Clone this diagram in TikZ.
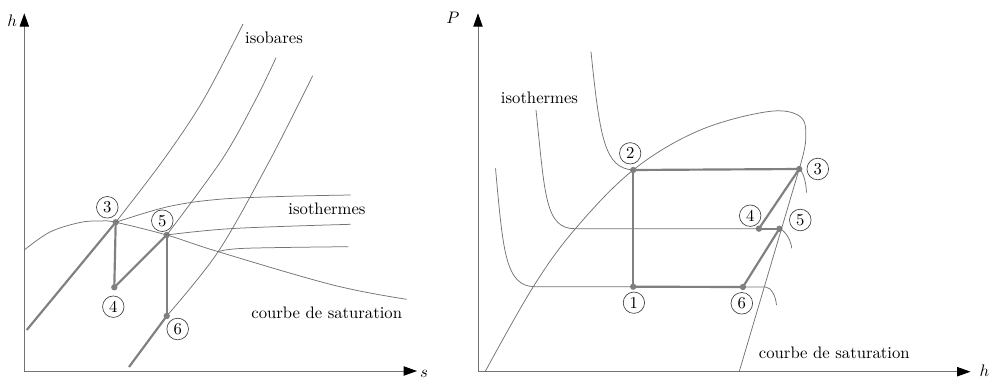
\documentclass[tikz,border=0pt]{standalone}
\usetikzlibrary{arrows.meta}
\begin{document}
\begin{tikzpicture}[x=0.6pt,y=-0.6pt,
  fine/.style={draw=black!55, line width=0.45pt},
  cyc/.style={draw=black!50, line width=1.3pt},
  axis/.style={draw=black!55, line width=0.5pt, -{Triangle[length=8pt,width=5.6pt,black]}},
  lbl/.style={circle, draw=black!75, line width=0.4pt, inner sep=1.6pt},
  dot/.style={circle, fill=black!50, inner sep=0pt, minimum size=3.8pt}]
\useasboundingbox (0,0) rectangle (990,381);

% ---------------- left panel (h-s) ----------------
\coordinate (LO) at (24.3,371);
\coordinate (LYt) at (24.3,13.3);
\coordinate (LXt) at (417,371);
\draw[axis] (LO) -- (LYt);
\draw[axis] (LO) -- (LXt);
\node (lh) at (12.3,21) {$h$};
\node (ls) at (424,374) {$s$};

\node[dot] (L3) at (115.7,222.3) {};
\node[dot] (L4) at (114.3,287.3) {};
\node[dot] (L5) at (166.7,235) {};
\node[dot] (L6) at (166.7,316) {};
\coordinate (LA) at (26.7,330);
\coordinate (LB) at (129,367);

% isobars
\draw[fine] plot[smooth,tension=0.55] coordinates {(115.7,222.3) (163.3,160) (203.3,100) (243,24)};
\draw[fine] plot[smooth,tension=0.55] coordinates {(166.7,235) (221.7,160) (255.5,100) (276,57.7)};
\draw[fine] plot[smooth,tension=0.55] coordinates {(166.7,316) (218.3,251.5) (270,160) (312.7,75.7)};
% saturation curve
\draw[fine] plot[smooth,tension=0.6] coordinates {(24.3,250) (50,232) (80,222.5) (100,221) (115.7,222.3) (166.7,235) (218.3,251.7) (333,285) (406.7,299.3)};
% isotherms
\draw[fine] plot[smooth,tension=0.6] coordinates {(115.7,222.3) (166.7,207) (216.7,199.5) (280,196.5) (350.7,195)};
\draw[fine] plot[smooth,tension=0.6] coordinates {(166.7,235) (233,228.5) (350.7,224.3)};
\draw[fine] plot[smooth,tension=0.6] coordinates {(218.3,251.7) (245,248.3) (348.3,246.7)};

% cycle
\draw[cyc] (LA) -- (L3.center);
\draw[cyc] (L3.center) -- (L4.center);
\draw[cyc] (L4.center) -- (L5.center);
\draw[cyc] (L5.center) -- (L6.center);
\draw[cyc] (L6.center) -- (LB);

\node[lbl] (l3) at (107.3,207.3) {3};
\node[lbl] (l5) at (162.3,220.7) {5};
\node[lbl] (l4) at (113.3,306.7) {4};
\node[lbl] (l6) at (177.7,329) {6};

\node (tisob) at (274,38) {isobares};
\node (tisoL) at (327,209) {isothermes};
\node (tsatL) at (326.7,313.3) {courbe de saturation};

% ---------------- right panel (P-h) ----------------
\coordinate (RO) at (478,371.7);
\coordinate (RYt) at (478,13.3);
\coordinate (RXt) at (970.5,371.7);
\draw[axis] (RO) -- (RYt);
\draw[axis] (RO) -- (RXt);
\node (rP) at (453,18.3) {$P$};
\node (rh) at (984.5,371) {$h$};

\node[dot] (R2) at (633.2,170) {};
\node[dot] (R3) at (799.2,169) {};
\node[dot] (R4) at (758.9,228.7) {};
\node[dot] (R5) at (779.4,228.7) {};
\node[dot] (R1) at (633.2,286.7) {};
\node[dot] (R6) at (742.9,287) {};

% saturation dome
\draw[fine] plot[smooth,tension=0.6] coordinates {(485.1,371.7) (533.3,286.7) (575.4,228.7) (633.2,170) (698,131) (767.3,111.7) (800.3,116.7) (805.7,140) (799.2,169)} -- (739.2,371.7);

% isotherms
\draw[fine] (591,51.7) .. controls (600,140) and (605,168) .. (R2.center);
\draw[fine] (R3.center) .. controls (802.5,171) and (806,180) .. (806.5,192.7);
\draw[fine] (536,110) .. controls (545,195) and (545,228.7) .. (575,228.7) -- (R4.center);
\draw[fine] (R5.center) .. controls (784,230) and (790.5,238) .. (791.8,248.3);
\draw[fine] (495.5,168.3) .. controls (503,250) and (505,286.7) .. (535,286.7) -- (R1.center);
\draw[fine] (R6.center) -- (765.5,287) .. controls (771,287.5) and (775.5,295) .. (776.5,305);

% cycle
\draw[cyc] (R2.center) -- (R3.center);
\draw[cyc] (R2.center) -- (R1.center);
\draw[cyc] (R1.center) -- (R6.center);
\draw[cyc] (R6.center) -- (R5.center);
\draw[cyc] (R5.center) -- (R4.center);
\draw[cyc] (R4.center) -- (R3.center);

\node[lbl] (r2) at (630.2,153.3) {2};
\node[lbl] (r3) at (817.8,169) {3};
\node[lbl] (r4) at (750.2,215.7) {4};
\node[lbl] (r5) at (800.3,220) {5};
\node[lbl] (r1) at (633.9,302.7) {1};
\node[lbl] (r6) at (741.8,303.3) {6};

\node (tisoR) at (539.5,98.3) {isothermes};
\node (tsatR) at (834.3,353.3) {courbe de saturation};
\end{tikzpicture}
\end{document}
